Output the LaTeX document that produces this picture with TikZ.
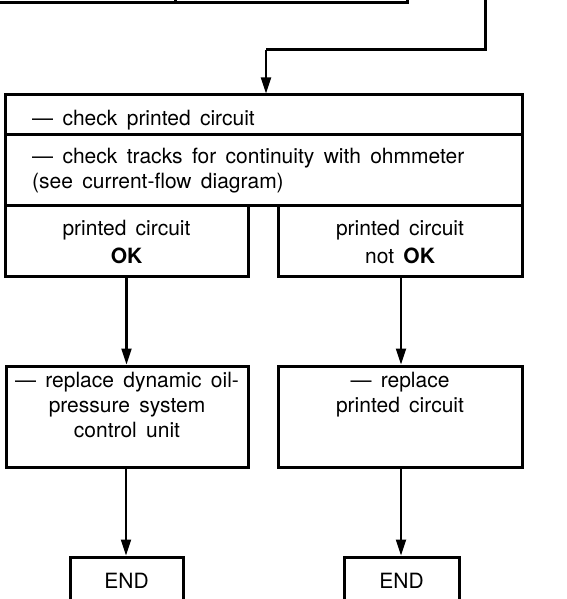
\documentclass[tikz,border=0pt]{standalone}
\usepackage{fontspec}
\setmainfont{TeX Gyre Heros}[WordSpace=1.6]
\usetikzlibrary{arrows.meta}
\begin{document}
\begin{tikzpicture}[x=1pt,y=-1pt,
 box/.style={draw,line width=3pt,rectangle,inner sep=0pt},
 txt/.style={font=\fontsize{21}{25}\selectfont,inner sep=0pt},
 arr/.style={line width=2.2pt,-{Triangle[length=16pt,width=10pt]}},
 wire/.style={line width=3pt}]
\useasboundingbox (0,0) rectangle (566,599);
\begin{scope}
\clip (0,0) rectangle (566,599);
% partial box at top
\node[box,minimum width=185pt,minimum height=60pt] (topA) at (82.5,-27) {};
\node[box,minimum width=232pt,minimum height=60pt] (topB) at (291,-27) {};
\coordinate (src) at (485,-10);
% main box
\node[box,minimum width=517pt,minimum height=39pt] (row1) at (263.5,114.5) {};
\node[box,minimum width=517pt,minimum height=71pt] (row2) at (263.5,169.5) {};
\node[box,minimum width=243pt,minimum height=71pt] (ok) at (126.5,240.5) {};
\node[box,minimum width=244pt,minimum height=71pt] (nok) at (400,240.5) {};
\node[box,minimum width=242pt,minimum height=101pt] (repA) at (127,416.5) {};
\node[box,minimum width=244pt,minimum height=101pt] (repB) at (400,416.5) {};
\node[box,minimum width=113pt,minimum height=46pt] (endA) at (126.5,580) {};
\node[box,minimum width=115pt,minimum height=46pt] (endB) at (401.5,580) {};
% texts (anchor base = last line's baseline)
\node[txt,anchor=base west] (t1) at (32,125) {— check printed circuit};
\node[txt,anchor=base west,align=left] (t2) at (32,188.5) {— check tracks for continuity with ohmmeter\\(see current-flow diagram)};
\node[txt,anchor=base,align=center] (t3) at (126.5,263.5) {printed circuit\\[3.5pt]\textbf{OK}};
\node[txt,anchor=base,align=center] (t4) at (400,263.5) {printed circuit\\[3.5pt]not \textbf{OK}};
\node[txt,anchor=base,align=center] (t5) at (127,437) {— replace dynamic oil-\\pressure system\\control unit};
\node[txt,anchor=base,align=center] (t6) at (400,412) {— replace\\printed circuit};
\node[txt,anchor=base] (t7) at (126.5,588) {END};
\node[txt,anchor=base] (t8) at (401.5,588) {END};
% connectors
\draw[wire] (src) |- (266,50) coordinate (bend);
\draw[arr] (bend) -- (row1.north -| bend);
\draw[arr] (ok.south) -- (repA.north -| ok.south);
\draw[arr] (nok.south -| 401,0) -- (repB.north -| 401,0);
\draw[arr] (repA.south -| 126,0) -- (endA.north -| 126,0);
\draw[arr] (repB.south -| 401,0) -- (endB.north -| 401,0);
\end{scope}
\end{tikzpicture}
\end{document}
